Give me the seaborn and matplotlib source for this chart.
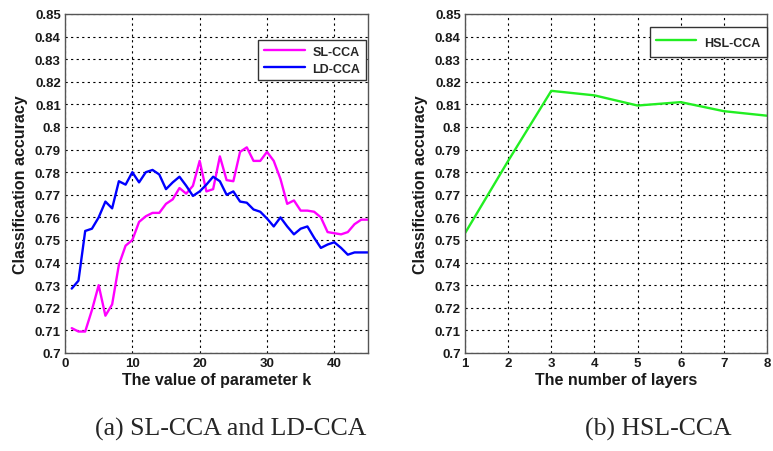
import numpy as np
import pandas as pd
import matplotlib
matplotlib.use('Agg')
import matplotlib.pyplot as plt
import seaborn as sns

# parameter k on the left panel
k_values = list(range(1, 46))
sl_cca = [0.711, 0.7095, 0.7095, 0.719, 0.730, 0.7165, 0.7215, 0.739, 0.7475, 0.750,
          0.758, 0.7605, 0.762, 0.762, 0.766, 0.768, 0.773, 0.7705, 0.774, 0.785,
          0.7715, 0.7725, 0.787, 0.7765, 0.776, 0.789, 0.791, 0.785, 0.785, 0.789,
          0.785, 0.777, 0.766, 0.7675, 0.763, 0.763, 0.7625, 0.760, 0.7535, 0.753,
          0.7525, 0.7535, 0.757, 0.759, 0.759]
ld_cca = [0.7285, 0.732, 0.754, 0.755, 0.760, 0.767, 0.764, 0.776, 0.7745, 0.780,
          0.7755, 0.780, 0.781, 0.779, 0.7725, 0.7755, 0.778, 0.774, 0.7695, 0.7715,
          0.7745, 0.778, 0.776, 0.770, 0.7715, 0.767, 0.7665, 0.7635, 0.7625, 0.7595,
          0.756, 0.760, 0.756, 0.7525, 0.755, 0.756, 0.751, 0.7465, 0.748, 0.749,
          0.7465, 0.7435, 0.7445, 0.7445, 0.7445]

# number of layers on the right panel
layers = [1, 2, 3, 4, 5, 6, 7, 8]
hsl_cca = [0.753, 0.785, 0.816, 0.814, 0.8095, 0.811, 0.807, 0.805]

y_ticks = [round(0.70 + 0.01 * i, 2) for i in range(16)]
y_tick_labels = ['0.7' if t == 0.7 else ('0.8' if t == 0.8 else f'{t:.2f}') for t in y_ticks]

sns.set_style('white')
plt.rcParams['font.family'] = ['Liberation Sans', 'DejaVu Sans']

df_left = pd.DataFrame({
    'k': k_values * 2,
    'acc': sl_cca + ld_cca,
    'method': ['SL-CCA'] * len(k_values) + ['LD-CCA'] * len(k_values),
})
df_right = pd.DataFrame({'layers': layers, 'acc': hsl_cca, 'method': 'HSL-CCA'})

fig = plt.figure(figsize=(7.73, 4.52), dpi=100)
ax1 = fig.add_axes([65 / 773, 98 / 452, 303 / 773, 339 / 452])
ax2 = fig.add_axes([465 / 773, 98 / 452, 302 / 773, 339 / 452])

sns.lineplot(data=df_left, x='k', y='acc', hue='method',
             palette={'SL-CCA': '#ff00ff', 'LD-CCA': '#0000ff'},
             linewidth=1.7, ax=ax1)
sns.lineplot(data=df_right, x='layers', y='acc', hue='method',
             palette={'HSL-CCA': '#22ee22'}, linewidth=1.7, ax=ax2)


def style_axes(ax, xlabel):
    ax.set_ylim(0.70, 0.85)
    ax.set_yticks(y_ticks)
    ax.set_yticklabels(y_tick_labels)
    ax.grid(True, color='black', linestyle=(0, (2, 3)), linewidth=0.8)
    ax.tick_params(direction='in', length=3, labelsize=9.5, pad=3, color='#444444')
    for lab in ax.get_xticklabels() + ax.get_yticklabels():
        lab.set_fontweight('bold')
        lab.set_color('#1a1a1a')
    for sp in ax.spines.values():
        sp.set_color('#555555')
        sp.set_linewidth(1.0)
    ax.set_xlabel(xlabel, fontsize=11.5, fontweight='bold', labelpad=2, color='#1a1a1a')
    ax.set_ylabel('Classification accuracy', fontsize=11.5, fontweight='bold',
                  labelpad=5, color='#1a1a1a')


ax1.set_xlim(0, 45)
ax1.set_xticks([0, 10, 20, 30, 40])
style_axes(ax1, 'The value of parameter k')
ax2.set_xlim(1, 8)
ax2.set_xticks(layers)
style_axes(ax2, 'The number of layers')

# legend boxes sit a little below the top edge, as in the original
legend_spots = [(ax1, (1 - 2 / 303, 1 - 26 / 339), 0.45, 0.7, 3.3),
                (ax2, (1.0, 1 - 13 / 339), 0.55, 1.6, 3.2)]
for ax, anchor, bpad, hheight, hlen in legend_spots:
    leg = ax.legend(loc='upper right', bbox_to_anchor=anchor, fancybox=False,
                    edgecolor='#333333', borderaxespad=0, handlelength=hlen,
                    handleheight=hheight, handletextpad=0.6,
                    prop={'weight': 'bold', 'size': 9}, borderpad=bpad,
                    labelspacing=0.4, framealpha=1)
    leg.get_frame().set_linewidth(1.0)
    for line in leg.get_lines():
        line.set_linewidth(1.7)

fig.text(231 / 773, 1 - 429 / 452, '(a) SL-CCA and LD-CCA', ha='center', va='center',
         fontsize=18.5, family='Liberation Serif')
fig.text(658 / 773, 1 - 429 / 452, '(b) HSL-CCA', ha='center', va='center',
         fontsize=18.5, family='Liberation Serif')

fig.savefig('out.png', dpi=100)
